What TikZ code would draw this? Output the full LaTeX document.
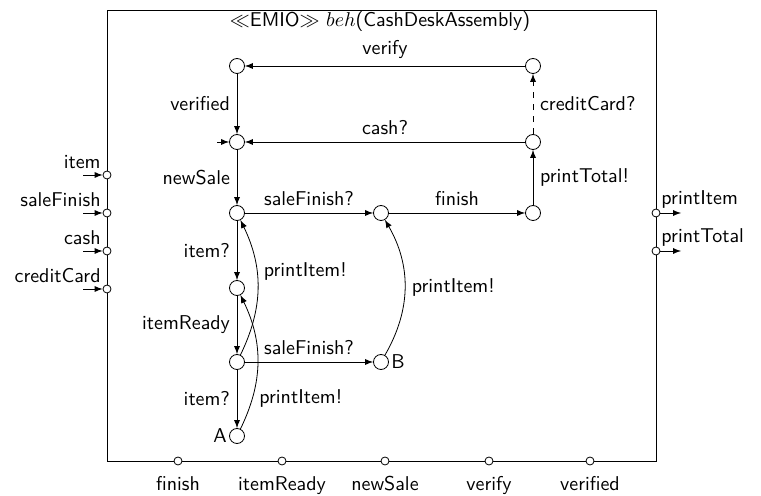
\documentclass[tikz,border=0pt]{standalone}
\usepackage{amsmath}
\usepackage{amssymb}
\usetikzlibrary{shapes,arrows,positioning,calc}
\tikzstyle{state} = [draw, circle, fill=white, inner sep=0pt, minimum size=7.5pt]
\tikzstyle{port} = [draw, circle, fill=white, inner sep=0pt, minimum size=4pt]
\tikzstyle{coord} = [coordinate]
\tikzstyle{trans} = [->]

\begin{document}
\begin{tikzpicture}[x=0.5pt, y=-0.5pt, auto, >=latex, every node/.style={font=\sffamily}]
    \useasboundingbox (0,0) rectangle (761,496);
    % component frame
    \draw (107,10) rectangle (656,461);
    \node (title) at (380,22) {$\ll$EMIO$\gg$ $beh$(CashDeskAssembly)};

    % states
    \node (verifyWait) [state] at (237,66) {};
    \node (cardWait) [state] at (533,66) {};
    \node (idle) [state] at (237,142) {};
    \node (payWait) [state] at (533,142) {};
    \node (sale) [state] at (237,213) {};
    \node (closing) [state] at (381,213) {};
    \node (total) [state] at (533,213) {};
    \node (scanned) [state] at (237,288) {};
    \node (ready) [state] at (237,362) {};
    \node (stateB) [state, label={[inner sep=1pt]right:B}] at (381,362) {};
    \node (stateA) [state, label={[inner sep=1pt]left:A}] at (237,436) {};
    \node (init) [coord] at (217,142) {};

    % transitions
    \draw [trans] (init) -- (idle);
    \draw [trans] (cardWait) -- node [above] {verify} (verifyWait);
    \draw [trans] (verifyWait) -- node [left] {verified} (idle);
    \draw [trans] (payWait) -- node [above] {cash?} (idle);
    \draw [trans, dashed] (payWait) -- node [right] {creditCard?} (cardWait);
    \draw [trans] (total) -- node [right] {printTotal!} (payWait);
    \draw [trans] (idle) -- node [left] {newSale} (sale);
    \draw [trans] (sale) -- node [above] {saleFinish?} (closing);
    \draw [trans] (closing) -- node [above] {finish} (total);
    \draw [trans] (sale) -- node [left] {item?} (scanned);
    \draw [trans] (scanned) -- node [left] {itemReady} (ready);
    \draw [trans] (ready) -- node [above] {saleFinish?} (stateB);
    \draw [trans] (ready) -- node [left] {item?} (stateA);
    \draw [trans] (ready) to [bend right=26] node [pos=0.62, right] {printItem!} (sale);
    \draw [trans] (stateA) to [bend right=26] node [pos=0.22, right] {printItem!} (scanned);
    \draw [trans] (stateB) to [bend right=30] node [right] {printItem!} (closing);

    % input ports
    \foreach \name/\y in {item/175, saleFinish/213, cash/251, creditCard/289} {
        \node (in-\name) [port] at (107,\y) {};
        \node (in-\name-src) [coord] at (83,\y) {};
        \node [anchor=east, inner sep=0pt] at (101,\y-13) {\name};
        \draw [trans] (in-\name-src) -- (in-\name);
    }
    % output ports
    \foreach \name/\y in {printItem/213, printTotal/251} {
        \node (out-\name) [port] at (656,\y) {};
        \node (out-\name-dst) [coord] at (681,\y) {};
        \node [anchor=west, inner sep=0pt] at (661,\y-13) {\name};
        \draw [trans] (out-\name) -- (out-\name-dst);
    }
    % internal ports
    \foreach \name/\x in {finish/178, itemReady/282, newSale/385, verify/489, verified/590} {
        \node (int-\name) [port] at (\x,461) {};
        \node [below=2pt of int-\name] {\name};
    }
\end{tikzpicture}
\end{document}
